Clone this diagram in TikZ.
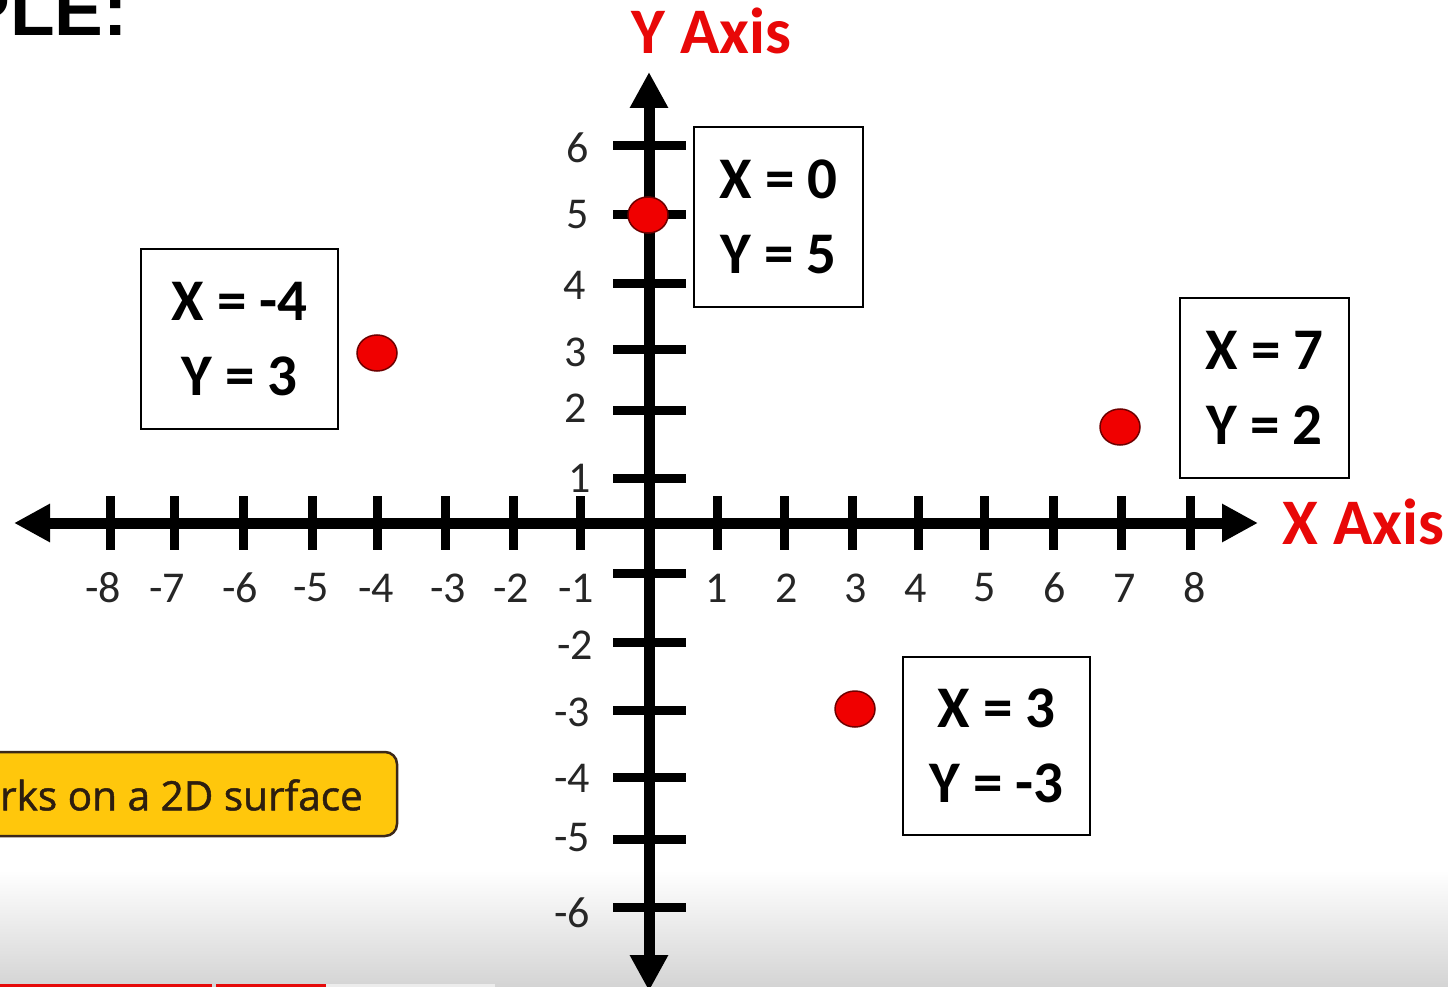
\documentclass[tikz,border=0pt]{standalone}
\usepackage{fontspec}
\setmainfont{Carlito}
\newfontfamily\hdfont{Liberation Sans}
\newfontfamily\pillfont[FakeBold=1.2]{Open Sans}
\usetikzlibrary{arrows.meta,shapes.geometric}
\definecolor{axisred}{RGB}{232,8,8}
\definecolor{dotred}{RGB}{240,0,0}
\definecolor{dotedge}{RGB}{110,0,0}
\definecolor{pillfill}{RGB}{255,199,12}
\definecolor{pilledge}{RGB}{60,40,25}
\definecolor{pilltext}{RGB}{45,30,15}
\definecolor{shadegray}{RGB}{212,212,212}
\definecolor{barred}{RGB}{230,10,10}
\definecolor{barlight}{RGB}{236,236,236}
\begin{document}
\begin{tikzpicture}[x=1pt,y=-1pt,
  tlabel/.style={font=\fontsize{44}{44}\selectfont, text=black!85, inner sep=0pt},
  coordbox/.style={draw=black, line width=2.5pt, inner sep=0pt, align=center,
    font=\fontsize{59}{75}\selectfont\bfseries},
  ptdot/.style={ellipse, fill=dotred, draw=dotedge, line width=1.5pt,
    minimum width=40pt, minimum height=36pt, inner sep=0pt},
  axislab/.style={text=axisred, inner sep=0pt, font=\fontsize{65}{65}\selectfont\bfseries},
  axisline/.style={line width=11pt, draw=black,
    {Triangle[width=36pt,length=36pt]}-{Triangle[width=36pt,length=36pt]}},
  tickmark/.style={line width=9pt, draw=black},
  pillbox/.style={rectangle, rounded corners=12pt, fill=pillfill, draw=pilledge,
    line width=2.5pt, inner sep=0pt},
  pilllab/.style={text=pilltext, inner sep=0pt, font=\pillfont\fontsize{40.5}{40.5}\selectfont}
]
\useasboundingbox (0,0) rectangle (1448,987);
\clip (0,0) rectangle (1448,987);
\fill[white] (0,0) rectangle (1448,987);
\shade[top color=white, bottom color=shadegray] (0,870) rectangle (1448,987);
\fill[barred] (0,984) rectangle (212,987);
\fill[barred] (216,984) rectangle (326,987);
\fill[barlight] (326,984) rectangle (495,987);

% title fragment
\node[anchor=base west, inner sep=0pt, font=\hdfont\bfseries\fontsize{73}{73}\selectfont] (title) at (-38.7,36) {PLE:};

% x tick labels
\foreach \nm/\lx in {-8/103,-7/167,-6/240,-5/311,-4/376,-3/448,-2/511,-1/576,1/717,2/787,3/856,4/916,5/985,6/1055,7/1125,8/1195}
  \node[tlabel] (xl\nm) at (\lx,588) {\nm};
% y tick labels
\foreach \nm/\ly/\lx in {6/148/578,5/215/578,4/285/575,3/352/576,2/408/576,1/478/580,-2/645/575,-3/712/572,-4/778/572,-5/838/572,-6/913/572}
  \node[tlabel] (yl\nm) at (\lx,\ly) {\nm};

% ticks
\foreach \t in {110,174,243,312,377,445,513,580,717,784,852,918,984,1053,1121,1190}
  \draw[tickmark] (\t,496) -- (\t,550);
\foreach \t in {146,215,283,349,410,478,573,642,710,777,839,907}
  \draw[tickmark] (613,\t) -- (686,\t);

% axes
\coordinate (xleft) at (14,523);
\coordinate (xright) at (1258,523);
\coordinate (ytop) at (649,72);
\coordinate (ybottom) at (649,991);
\draw[axisline] (xleft) -- (xright);
\draw[axisline] (ybottom) -- (ytop);

% axis titles
\node[axislab] (ytitle) at (711.5,31) {Y Axis};
\node[axislab] (xtitle) at (1363.5,522) {X Axis};

% coordinate boxes
\node[coordbox, minimum width=169pt, minimum height=180pt] (boxA) at (778.5,217) {X = 0\\Y = 5};
\node[coordbox, minimum width=197pt, minimum height=180pt] (boxB) at (239.5,339) {X = -4\\Y = 3};
\node[coordbox, minimum width=169pt, minimum height=180pt] (boxC) at (1264.5,388) {X = 7\\Y = 2};
\node[coordbox, minimum width=187pt, minimum height=178pt] (boxD) at (996.5,746) {X = 3\\Y = -3};

% points
\node[ptdot] (pA) at (648,215) {};
\node[ptdot] (pB) at (377,353) {};
\node[ptdot] (pC) at (1120,427) {};
\node[ptdot] (pD) at (855,709) {};

% yellow label
\node[pillbox, minimum width=427pt, minimum height=84pt] (pill) at (183.5,794) {};
\node[pilllab, anchor=east] (pilltxt) at (363,795) {rks on a 2D surface};
\end{tikzpicture}
\end{document}
